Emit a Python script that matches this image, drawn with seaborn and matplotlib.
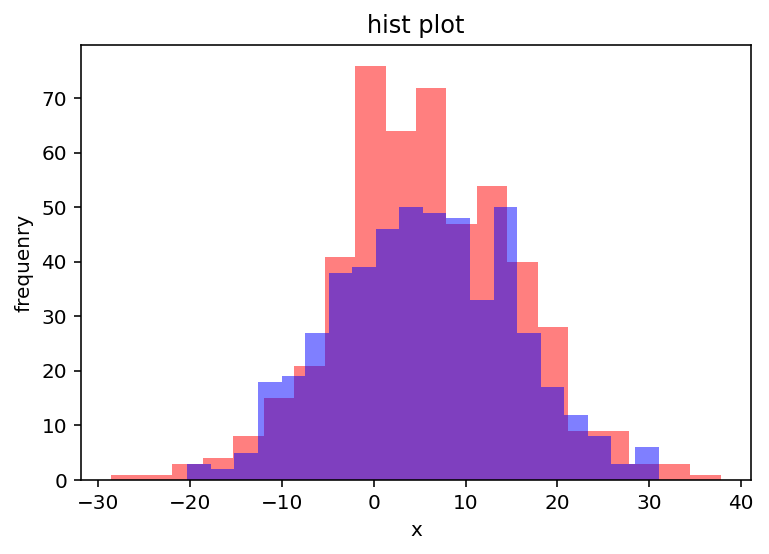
import numpy as np
import pandas as pd
import matplotlib
matplotlib.use("Agg")
import matplotlib.pyplot as plt
import seaborn as sns

# Red series: 20 equal bins between red_lo and red_hi
red_lo, red_hi = -28.55, 37.75
red_counts = [1, 1, 3, 4, 8, 15, 21, 41, 76, 64, 72, 47, 54, 40, 28, 9, 9, 3, 3, 1]

# Blue series: 20 equal bins between blue_lo and blue_hi
blue_lo, blue_hi = -20.3, 31.0
blue_counts = [3, 2, 5, 18, 19, 27, 38, 39, 46, 50, 49, 48, 33, 50, 27, 17, 12, 8, 3, 6]

title = "hist plot"
xlabel = "x"
ylabel = "frequenry"

s = 1.44
plt.rcParams.update({
    "font.size": 10 * s,
    "axes.linewidth": 0.8 * s,
    "xtick.major.size": 3.5 * s,
    "ytick.major.size": 3.5 * s,
    "xtick.major.width": 0.8 * s,
    "ytick.major.width": 0.8 * s,
    "xtick.major.pad": 3.5 * s,
    "ytick.major.pad": 3.5 * s,
    "axes.titlesize": 12 * s,
    "axes.labelsize": 10 * s,
    "axes.titlepad": 6 * s,
    "axes.labelpad": 4 * s,
})

fig = plt.figure(figsize=(7.69, 5.54), dpi=100)
ax = fig.add_axes([81 / 769, 1 - 480 / 554, (751 - 81) / 769, (480 - 45) / 554])

def draw(lo, hi, counts, color):
    edges = [float(e) for e in np.linspace(lo, hi, len(counts) + 1)]
    centers = [(edges[i] + edges[i + 1]) / 2 for i in range(len(counts))]
    df = pd.DataFrame({"x": centers, "w": counts})
    sns.histplot(data=df, x="x", weights="w", bins=edges, color=color,
                 alpha=0.5, linewidth=0, ax=ax)

draw(red_lo, red_hi, red_counts, (1, 0, 0))
draw(blue_lo, blue_hi, blue_counts, (0, 0, 1))

ax.set_xticks([-30, -20, -10, 0, 10, 20, 30, 40])
ax.set_yticks([0, 10, 20, 30, 40, 50, 60, 70])
ax.set_title(title)
ax.set_xlabel(xlabel)
ax.set_ylabel(ylabel)

fig.savefig("out.png", dpi=100)
